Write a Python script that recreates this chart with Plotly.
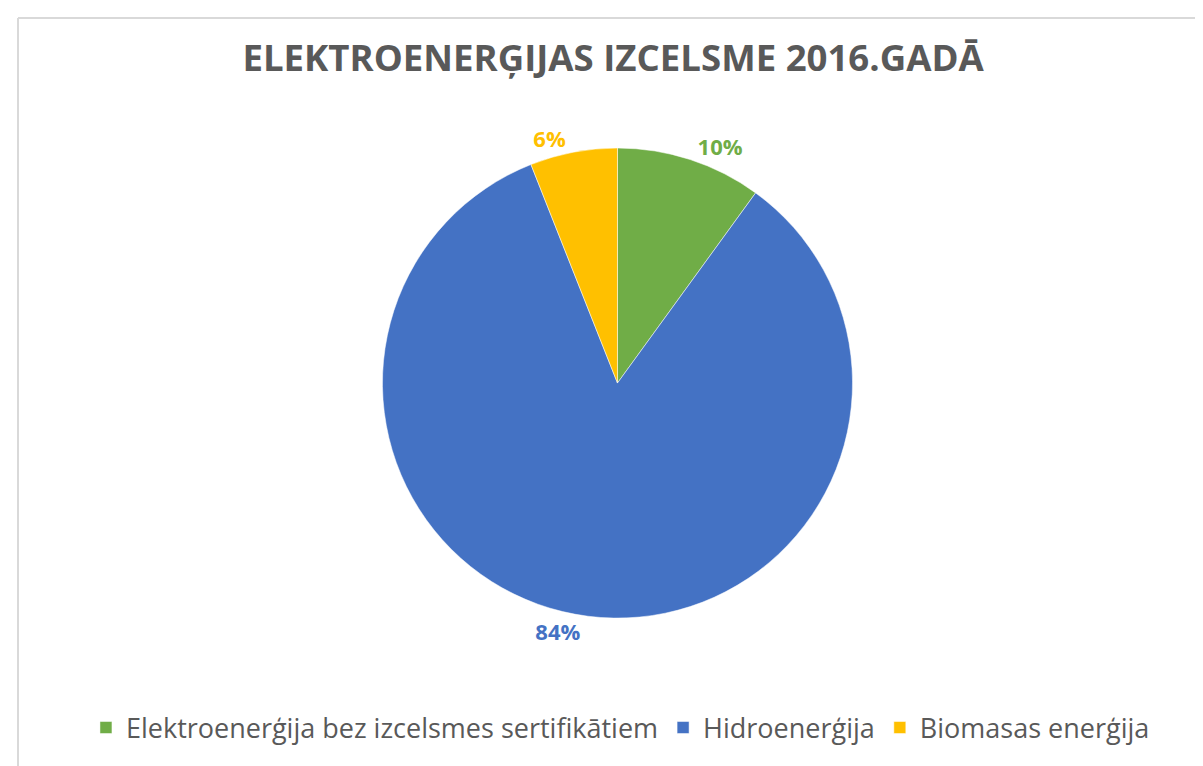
import plotly.graph_objects as go

categories = ["Elektroenerģija bez izcelsmes sertifikātiem", "Hidroenerģija", "Biomasas enerģija"]
shares = [10, 84, 6]
colors = ["#70AD47", "#4472C4", "#FFC000"]
title_text = "ELEKTROENERĢIJAS IZCELSME 2016.GADĀ"

fig = go.Figure(go.Pie(
    labels=categories,
    values=shares,
    sort=False,
    direction="clockwise",
    rotation=0,
    marker=dict(colors=colors, line=dict(color="rgba(255,255,255,0.5)", width=1)),
    texttemplate="%{percent:.0%}",
    textposition="outside",
    outsidetextfont=dict(family="Open Sans", size=22, color=colors, weight="bold"),
    hovertemplate="%{label}: %{percent}<extra></extra>",
    domain=dict(x=[0.0425, 0.9625], y=[0.067, 0.944]),
))

fig.update_layout(
    width=1203, height=766,
    paper_bgcolor="white",
    plot_bgcolor="white",
    margin=dict(l=10, r=0, t=110, b=120, autoexpand=False),
    title=dict(text=title_text, x=0.503, xanchor="center", y=0.935, yanchor="middle",
               font=dict(family="Open Sans", size=36.6, color="#595959", weight="bold")),
    showlegend=True,
    legend=dict(orientation="h", x=0.505, xanchor="center", y=-0.138, yanchor="middle",
                font=dict(family="Open Sans", size=27, color="#595959"),
                traceorder="normal", itemwidth=30),
    shapes=[dict(type="line", xref="paper", yref="paper", x0=0, y0=1.1866, x1=1.0, y1=1.1866,
                 line=dict(color="#D9D9D9", width=2)),
            dict(type="line", xref="paper", yref="paper", x0=0, y0=-0.3, x1=0, y1=1.1866,
                 line=dict(color="#D9D9D9", width=2))],
)

fig.write_html("out.html")
